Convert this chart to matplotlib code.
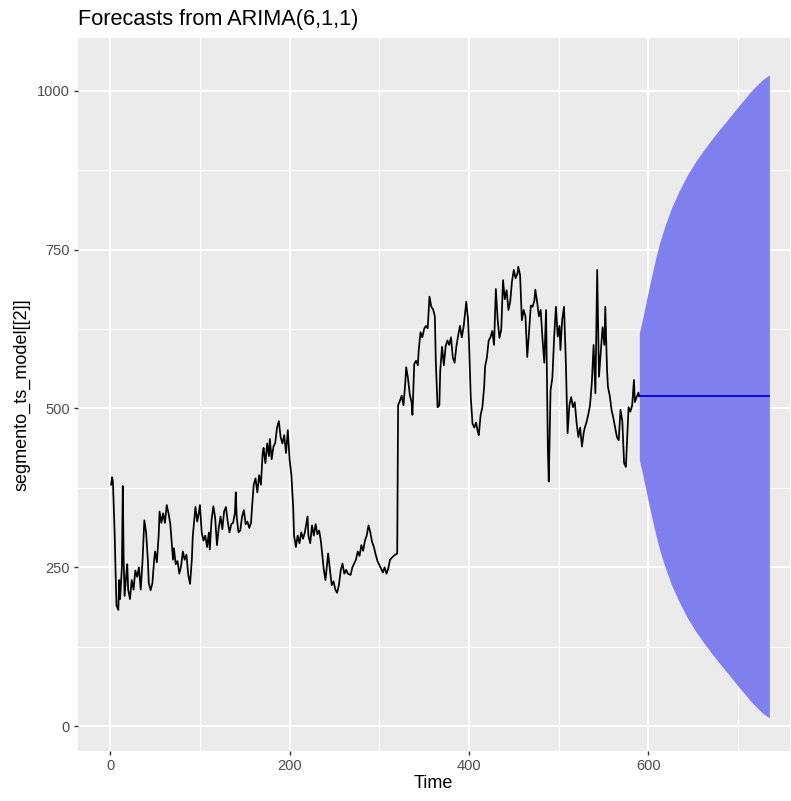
import matplotlib
matplotlib.use("Agg")
import matplotlib.pyplot as plt
from matplotlib.ticker import MultipleLocator

plt.rcParams['font.family'] = ['Liberation Sans', 'DejaVu Sans']

obs_t = [1, 2, 3, 5, 6, 7, 9, 10, 11, 13, 14, 15, 16, 18, 19, 20, 22, 24, 26, 28,
         30, 32, 34, 36, 38, 40, 42, 43, 45, 47, 49, 50, 52, 54, 55, 57, 59, 61, 63, 65,
         67, 68, 70, 71, 73, 75, 77, 79, 81, 83, 85, 87, 89, 91, 92, 94, 95, 97, 99, 100,
         102, 104, 106, 108, 110, 111, 113, 115, 117, 119, 121, 123, 125, 127, 129, 131, 133, 135, 137, 139,
         140, 141, 143, 145, 147, 149, 151, 153, 155, 157, 158, 160, 162, 164, 166, 168, 170, 171, 173, 175,
         177, 178, 180, 182, 184, 186, 188, 190, 192, 194, 196, 198, 200, 202, 204, 205, 207, 209, 211, 213,
         215, 217, 220, 221, 223, 225, 227, 229, 231, 233, 235, 237, 238, 240, 243, 245, 247, 249, 251, 253,
         255, 257, 259, 261, 263, 265, 268, 270, 272, 274, 276, 278, 280, 282, 284, 286, 288, 290, 292, 294,
         296, 298, 300, 302, 304, 306, 308, 310, 312, 314, 316, 318, 320, 321, 323, 325, 327, 329, 330, 332,
         334, 336, 337, 339, 341, 343, 344, 346, 348, 350, 352, 354, 356, 358, 360, 362, 363, 365, 367, 368,
         370, 372, 374, 376, 378, 380, 382, 384, 386, 388, 390, 392, 394, 397, 399, 400, 402, 404, 406, 408,
         410, 411, 413, 415, 417, 418, 420, 422, 424, 426, 428, 430, 432, 434, 436, 438, 440, 442, 444, 446,
         448, 450, 452, 454, 455, 457, 459, 461, 463, 465, 467, 469, 471, 473, 474, 476, 478, 480, 482, 484,
         486, 488, 489, 491, 493, 495, 497, 499, 501, 502, 504, 506, 508, 510, 512, 514, 516, 518, 520, 522,
         524, 526, 528, 529, 531, 533, 535, 537, 539, 541, 543, 545, 547, 549, 551, 552, 554, 555, 557, 559,
         561, 563, 565, 567, 569, 571, 573, 575, 577, 578, 580, 582, 584, 585, 587, 589, 590]
obs_v = [380, 392, 385, 300, 240, 190, 183, 230, 200, 250, 378, 260, 205, 240, 255, 215, 200, 230, 215, 245,
         235, 250, 215, 260, 324, 305, 260, 225, 214, 225, 262, 275, 258, 300, 338, 320, 335, 320, 348, 335,
         318, 300, 262, 280, 255, 260, 240, 252, 275, 262, 270, 238, 224, 262, 298, 330, 345, 322, 338, 348,
         305, 292, 300, 282, 305, 278, 325, 346, 328, 285, 312, 330, 310, 338, 345, 322, 305, 318, 320, 335,
         368, 330, 305, 308, 330, 340, 318, 322, 312, 320, 342, 380, 390, 368, 395, 380, 430, 438, 414, 445,
         425, 452, 420, 440, 446, 470, 480, 455, 445, 458, 430, 466, 420, 395, 345, 300, 282, 300, 288, 305,
         295, 305, 330, 300, 288, 316, 300, 318, 302, 308, 290, 262, 248, 230, 272, 246, 222, 228, 215, 210,
         222, 245, 256, 240, 246, 240, 238, 250, 256, 262, 275, 268, 285, 276, 292, 300, 316, 305, 290, 282,
         270, 260, 254, 248, 242, 250, 240, 248, 262, 265, 268, 270, 272, 505, 512, 520, 505, 540, 565, 548,
         522, 510, 490, 570, 575, 568, 592, 620, 612, 625, 630, 626, 676, 660, 656, 645, 576, 502, 505, 560,
         597, 568, 598, 607, 600, 612, 580, 572, 598, 615, 630, 612, 628, 668, 640, 607, 518, 476, 470, 478,
         462, 458, 490, 502, 535, 566, 580, 607, 612, 622, 600, 688, 640, 611, 624, 702, 672, 686, 655, 668,
         700, 718, 705, 712, 723, 710, 639, 655, 645, 581, 620, 662, 660, 670, 687, 668, 645, 655, 610, 572,
         655, 435, 385, 529, 548, 612, 660, 613, 630, 592, 640, 660, 575, 461, 505, 518, 502, 510, 478, 455,
         470, 440, 462, 469, 478, 490, 505, 540, 600, 524, 718, 550, 590, 628, 600, 660, 560, 534, 520, 498,
         485, 470, 455, 450, 498, 480, 414, 408, 470, 502, 495, 505, 545, 510, 518, 525, 519]

# forecast interval and point forecast
fc_t = [590, 593, 596, 601, 608, 613, 619, 626, 634, 643, 653, 662, 671, 680,
        690, 699, 708, 715, 722, 728, 735]
fc_upper = [619, 637, 657, 691, 735, 762, 789, 816, 841, 866, 889, 907, 924, 940,
            957, 973, 988, 1000, 1010, 1018, 1025]
fc_lower = [419, 401, 381, 347, 303, 276, 249, 222, 197, 172, 149, 131, 114, 98,
            81, 65, 50, 38, 28, 20, 13]
fc_mean_t = [590, 735]
fc_mean = [519, 519]

x_ticks = [0, 200, 400, 600]
y_ticks = [0, 250, 500, 750, 1000]

fig = plt.figure(figsize=(7.91, 8.01), dpi=100)
ax = fig.add_axes([77.5 / 791, 1 - 751 / 801, (790 - 77.5) / 791, (751 - 38) / 801])

ax.set_facecolor('#EBEBEB')
for s in ax.spines.values():
    s.set_visible(False)

ax.set_xlim(-36.5, 758)
ax.set_ylim(-39, 1083)
ax.set_xticks(x_ticks)
ax.set_yticks(y_ticks)
ax.xaxis.set_minor_locator(MultipleLocator(100))
ax.yaxis.set_minor_locator(MultipleLocator(125))
ax.grid(which='major', color='white', linewidth=1.4)
ax.grid(which='minor', color='white', linewidth=0.75)
ax.set_axisbelow(True)
ax.tick_params(which='major', length=3, width=1.0, color='#333333',
               labelsize=10.5, labelcolor='#4D4D4D', pad=2.5)
ax.tick_params(which='minor', length=0)

ax.fill_between(fc_t, fc_lower, fc_upper, color='#7F7FEE', linewidth=0, zorder=2)
ax.plot(obs_t, obs_v, color='black', linewidth=1.25, zorder=3)
ax.plot(fc_mean_t, fc_mean, color='#0000DD', linewidth=1.3, zorder=4)

ax.set_xlabel('Time', fontsize=13, labelpad=2)
ax.set_ylabel('segmento_ts_model[[2]]', fontsize=13, labelpad=5)

fig.text(77.5 / 791, 1 - 20 / 801, 'Forecasts from ARIMA(6,1,1)',
         fontsize=15.7, ha='left', va='center')

fig.savefig('out.png', dpi=100)
